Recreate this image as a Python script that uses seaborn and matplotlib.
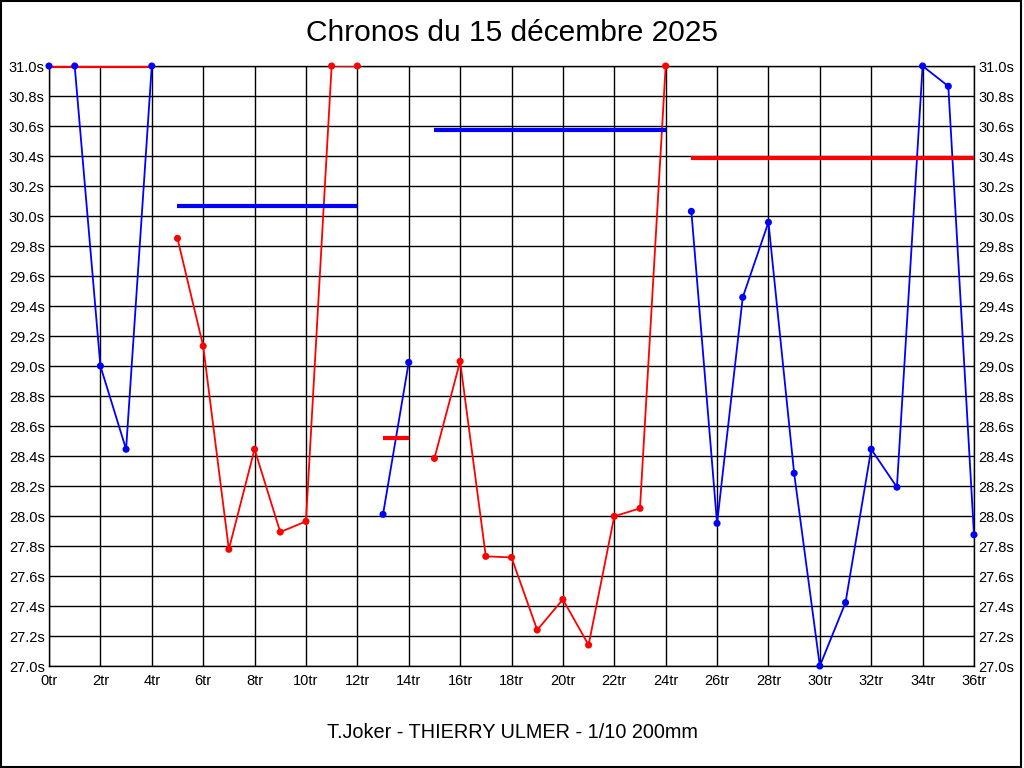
import numpy as np
import pandas as pd
import seaborn as sns
import matplotlib.pyplot as plt
from matplotlib.ticker import FuncFormatter, MultipleLocator

# lap times, split into the runs (stints)
laps_1 = [0, 1, 2, 3, 4]
times_1 = [31.0, 31.0, 29.0, 28.445, 31.0]
laps_2 = [5, 6, 7, 8, 9, 10, 11, 12]
times_2 = [29.851, 29.133, 27.778, 28.445, 27.893, 27.964, 31.0, 31.0]
laps_3 = [13, 14]
times_3 = [28.011, 29.024]
laps_4 = [15, 16, 17, 18, 19, 20, 21, 22, 23, 24]
times_4 = [28.384, 29.031, 27.731, 27.724, 27.24, 27.444, 27.14, 27.998, 28.051, 31.0]
laps_5 = [25, 26, 27, 28, 29, 30, 31, 32, 33, 34, 35, 36]
times_5 = [30.031, 27.951, 29.458, 29.958, 28.285, 27.0, 27.423, 28.445, 28.192, 31.0, 30.865, 27.875]

# average line of each run
run_means = [31.0, 30.064, 28.518, 30.573, 30.39]
run_colors = ["#0000FF", "#FF0000", "#0000FF", "#FF0000", "#0000FF"]
mean_colors = ["#FF0000", "#0000FF", "#FF0000", "#0000FF", "#FF0000"]

title = "Chronos du 15 décembre 2025"
footer = "T.Joker - THIERRY ULMER - 1/10 200mm"

runs = [(laps_1, times_1), (laps_2, times_2), (laps_3, times_3),
        (laps_4, times_4), (laps_5, times_5)]
frames = []
for i, (l, t) in enumerate(runs):
    frames.append(pd.DataFrame({"lap": l, "time": t, "run": i}))
df = pd.concat(frames, ignore_index=True)

sns.set_style("white")
plt.rcParams['font.family'] = ['Liberation Sans', 'DejaVu Sans']
plt.rcParams['text.color'] = 'black'

fig = plt.figure(figsize=(10.24, 7.68), dpi=100)
ax = fig.add_axes([49 / 1024, 102 / 768, 925 / 1024, 600 / 768])

for i in range(len(runs)):
    d = df[df["run"] == i]
    sns.lineplot(data=d, x="lap", y="time", color=run_colors[i], lw=1.3,
                 ax=ax, zorder=3)
    ax.hlines(run_means[i], d["lap"].min(), d["lap"].max(),
              color=mean_colors[i], lw=3, zorder=4)
    sns.scatterplot(data=d, x="lap", y="time", color=run_colors[i], s=26,
                    edgecolor="none", ax=ax, zorder=5, clip_on=False)

ax.set_xlim(0, 36)
ax.set_ylim(27.0, 31.0)
ax.xaxis.set_major_locator(MultipleLocator(2))
ax.yaxis.set_major_locator(MultipleLocator(0.2))
ax.xaxis.set_major_formatter(FuncFormatter(lambda v, p: f"{int(round(v))}tr"))
ax.yaxis.set_major_formatter(FuncFormatter(lambda v, p: f"{v:.1f}s"))
ax.grid(True, color="black", lw=1, zorder=1)
ax.set_axisbelow(True)
ax.tick_params(axis="both", length=0, labelsize=10.5, colors="black")
ax.tick_params(axis="y", labelright=True, pad=3)
ax.tick_params(axis="x", pad=6)
for s in ax.spines.values():
    s.set_color("black")
    s.set_linewidth(1)
ax.set_xlabel("")
ax.set_ylabel("")

fig.text(0.5, 1 - 33 / 768, title, ha="center", va="center", fontsize=21.5,
         color="black")
fig.text(0.5, 1 - 732 / 768, footer, ha="center", va="center", fontsize=14.3,
         color="black")

# frame round the whole picture
fig.patches.append(plt.Rectangle((0.0005, 0.001), 0.997, 0.998, transform=fig.transFigure,
                                 fill=False, edgecolor="black", lw=1.5))

fig.savefig("out.png", dpi=100)
